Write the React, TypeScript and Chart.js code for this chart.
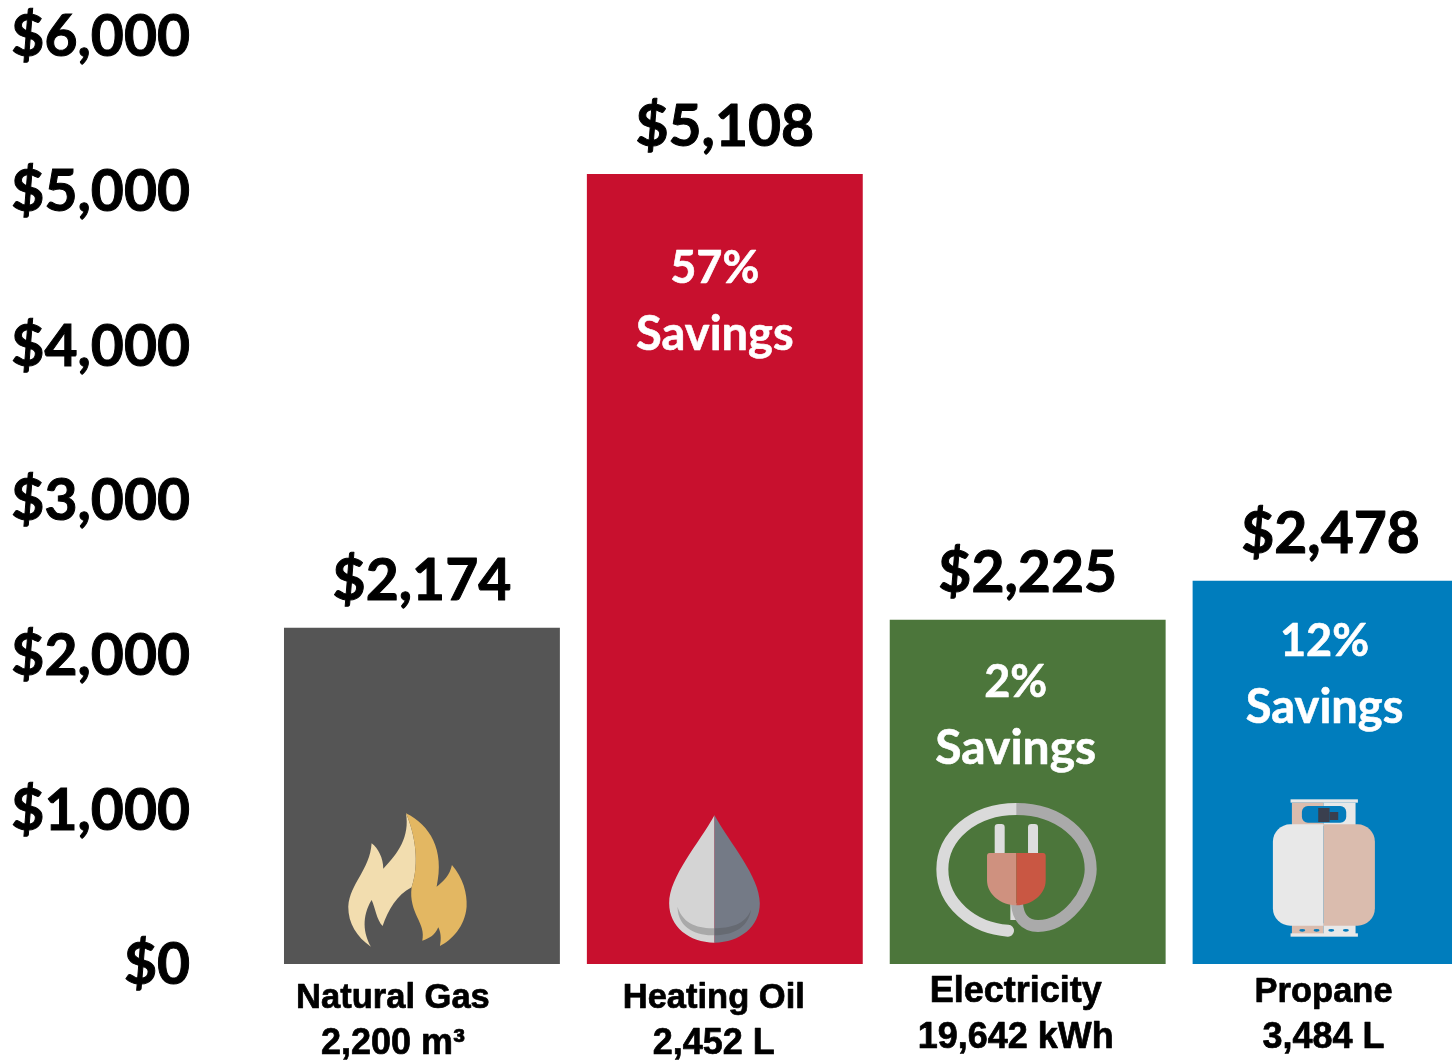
import React, { useEffect, useRef } from "react";
import { Chart, registerables } from "chart.js";

Chart.register(...registerables);

const categories = ["Natural Gas", "Heating Oil", "Electricity", "Propane"];
const quantities = ["2,200 m³", "2,452 L", "19,642 kWh", "3,484 L"];
const costs = [2174, 5108, 2225, 2478];
const savings = ["", "57%", "2%", "12%"];
const barColors = ["#555555", "#C8102E", "#4C763B", "#007DBD"];
const yTicks = [0, 1000, 2000, 3000, 4000, 5000, 6000];

const money = (v: number) => "$" + v.toLocaleString("en-US");
const CAL = "Lato, Carlito, sans-serif";
const SANS = '"Liberation Sans", Arial, sans-serif';

// placement of annotation text relative to the bars
const catDx = [-29, -11, -12, -7];
const catDy = [34, 34, 28, 28];
const catSize = [34.5, 34.5, 36, 34.5];
const saveDx = [0, -10, -12, -6];
const saveDy = [0, 95, 63, 61];
const saveSize = [47, 47, 48, 47];

type C = CanvasRenderingContext2D;
const half = (c: C, x0: number, x1: number, draw: () => void) => {
  c.save();
  c.beginPath();
  c.rect(x0, -2000, x1 - x0, 6000);
  c.clip();
  draw();
  c.restore();
};

function flame(c: C) {
  c.beginPath();
  c.moveTo(258, 70);
  c.bezierCurveTo(285, 130, 300, 220, 275, 292);
  c.bezierCurveTo(230, 315, 205, 360, 188, 408);
  c.bezierCurveTo(170, 390, 165, 350, 155, 330);
  c.bezierCurveTo(125, 380, 130, 430, 153, 470);
  c.bezierCurveTo(110, 440, 85, 400, 85, 350);
  c.bezierCurveTo(90, 280, 150, 240, 155, 160);
  c.bezierCurveTo(175, 175, 190, 205, 190, 236);
  c.bezierCurveTo(235, 190, 270, 140, 258, 70);
  c.fillStyle = "#F2DDAF";
  c.fill();
  c.beginPath();
  c.moveTo(258, 70);
  c.bezierCurveTo(330, 105, 375, 180, 350, 290);
  c.bezierCurveTo(370, 275, 390, 255, 396, 225);
  c.bezierCurveTo(430, 265, 442, 310, 440, 350);
  c.bezierCurveTo(435, 410, 395, 450, 360, 468);
  c.bezierCurveTo(365, 445, 362, 425, 355, 412);
  c.bezierCurveTo(345, 435, 330, 445, 307, 452);
  c.bezierCurveTo(320, 400, 265, 370, 275, 292);
  c.bezierCurveTo(300, 220, 285, 130, 258, 70);
  c.fillStyle = "#E3B762";
  c.fill();
}

function drop(c: C) {
  const shape = () => {
    c.beginPath();
    c.moveTo(1184, 76);
    c.bezierCurveTo(1230, 160, 1320, 260, 1320, 340);
    c.bezierCurveTo(1320, 410, 1260, 458, 1184, 458);
    c.bezierCurveTo(1108, 458, 1048, 410, 1048, 340);
    c.bezierCurveTo(1048, 260, 1138, 160, 1184, 76);
  };
  const smile = () => {
    c.beginPath();
    c.moveTo(1073, 350);
    c.bezierCurveTo(1090, 405, 1140, 415, 1184, 415);
    c.bezierCurveTo(1228, 415, 1278, 405, 1294, 358);
    c.bezierCurveTo(1285, 420, 1230, 436, 1184, 436);
    c.bezierCurveTo(1135, 436, 1075, 420, 1073, 350);
  };
  half(c, 1000, 1184, () => {
    shape();
    c.fillStyle = "#D4D4D4";
    c.fill();
    smile();
    c.fillStyle = "#A9A9A9";
    c.fill();
  });
  half(c, 1184, 1400, () => {
    shape();
    c.fillStyle = "#747A86";
    c.fill();
    smile();
    c.fillStyle = "#666A72";
    c.fill();
  });
}

function plug(c: C) {
  c.lineCap = "round";
  c.lineWidth = 36;
  c.strokeStyle = "#DADADA";
  c.beginPath();
  c.moveTo(320, 87);
  c.bezierCurveTo(190, 87, 98, 170, 98, 268);
  c.bezierCurveTo(98, 370, 190, 445, 295, 452);
  c.stroke();
  c.beginPath();
  c.lineCap = "butt";
  c.moveTo(320, 370);
  c.lineTo(320, 420);
  c.stroke();
  c.strokeStyle = "#AAAAAA";
  c.beginPath();
  c.moveTo(320, 87);
  c.bezierCurveTo(450, 87, 543, 170, 543, 268);
  c.bezierCurveTo(543, 340, 470, 438, 385, 438);
  c.bezierCurveTo(345, 438, 325, 410, 322, 372);
  c.stroke();
  c.fillStyle = "#DDDDDD";
  c.beginPath();
  c.roundRect(255, 132, 30, 95, 10);
  c.roundRect(355, 132, 30, 95, 10);
  c.fill();
  const body = () => {
    c.beginPath();
    c.moveTo(240, 219);
    c.lineTo(400, 219);
    c.quadraticCurveTo(408, 219, 408, 228);
    c.lineTo(408, 300);
    c.bezierCurveTo(408, 345, 365, 376, 320, 376);
    c.bezierCurveTo(275, 376, 232, 345, 232, 300);
    c.lineTo(232, 228);
    c.quadraticCurveTo(232, 219, 240, 219);
  };
  half(c, 200, 320, () => {
    body();
    c.fillStyle = "#CF917F";
    c.fill();
  });
  half(c, 320, 450, () => {
    body();
    c.fillStyle = "#C95743";
    c.fill();
  });
}

function tank(c: C) {
  const light = "#E8E8E8";
  const tan = "#DABCAE";
  const mid = 1242;
  c.fillStyle = light;
  c.fillRect(1143, 58, 202, 10);
  c.fillStyle = tan;
  c.fillRect(1147, 68, mid - 1147, 70);
  c.fillStyle = light;
  c.fillRect(mid, 68, 1338 - mid, 70);
  c.fillStyle = "#047CBC";
  c.beginPath();
  c.roundRect(1177, 78, 133, 50, 18);
  c.fill();
  c.fillStyle = "#3A3F4E";
  c.fillRect(1226, 84, 34, 42);
  c.fillRect(1260, 96, 26, 24);
  c.fillStyle = tan;
  c.fillRect(1147, 430, mid - 1147, 32);
  c.fillStyle = light;
  c.fillRect(mid, 430, 1338 - mid, 32);
  c.fillRect(1143, 460, 202, 10);
  const body = () => {
    c.beginPath();
    c.roundRect(1090, 133, 306, 304, 52);
  };
  half(c, 1000, mid, () => {
    body();
    c.fillStyle = light;
    c.fill();
  });
  half(c, mid, 1500, () => {
    body();
    c.fillStyle = tan;
    c.fill();
  });
  c.fillStyle = "#047CBC";
  for (const x of [1178, 1221, 1265, 1309]) {
    c.beginPath();
    c.ellipse(x, 451, 9, 4, 0, 0, Math.PI * 2);
    c.fill();
  }
}

// each icon is traced at 3x, with its origin relative to the bar centre and base
const icons = [
  { draw: flame, dx: -102, dy: -174 },
  { draw: drop, dx: -405, dy: -174 },
  { draw: plug, dx: -118, dy: -184 },
  { draw: tank, dx: -421, dy: -184 },
];

function heavyText(c: C, text: string, x: number, y: number, stroke: number) {
  c.lineWidth = stroke;
  c.lineJoin = "round";
  c.strokeStyle = c.fillStyle as string;
  c.strokeText(text, x, y);
  c.fillText(text, x, y);
}

const annotate = {
  id: "annotate",
  afterDatasetsDraw(chart: any) {
    const c: C = chart.ctx;
    const bars = chart.getDatasetMeta(0).data;
    c.save();
    c.textAlign = "center";
    c.textBaseline = "middle";
    bars.forEach((bar: any, i: number) => {
      const base = chart.scales.y.getPixelForValue(0);
      c.fillStyle = "#000000";
      c.font = `bold 57px ${CAL}`;
      heavyText(c, money(costs[i]), bar.x, bar.y - 46.5, 1);

      if (savings[i]) {
        c.fillStyle = "#FFFFFF";
        c.font = `bold 45px ${CAL}`;
        heavyText(c, savings[i], bar.x + saveDx[i], bar.y + saveDy[i], 0.6);
        c.font = `bold ${saveSize[i]}px ${CAL}`;
        heavyText(c, "Savings", bar.x + saveDx[i], bar.y + saveDy[i] + 66, 0.6);
      }

      c.save();
      c.translate(bar.x + icons[i].dx, base + icons[i].dy);
      c.scale(1 / 3, 1 / 3);
      icons[i].draw(c);
      c.restore();

      c.fillStyle = "#000000";
      c.font = `bold ${catSize[i]}px ${SANS}`;
      heavyText(c, categories[i], bar.x + catDx[i], base + catDy[i], 0.7);
      c.font = `bold 36px ${SANS}`;
      heavyText(c, quantities[i], bar.x + catDx[i], base + catDy[i] + 46, 0.7);
    });
    c.restore();
  },
};

export default function App() {
  const ref = useRef<HTMLCanvasElement>(null);
  useEffect(() => {
    document.body.style.margin = "0";
    const chart = new Chart(ref.current!, {
      type: "bar",
      data: {
        labels: categories,
        datasets: [
          {
            data: costs,
            backgroundColor: barColors,
            categoryPercentage: 1,
            barPercentage: 276 / 303,
          },
        ],
      },
      options: {
        animation: false,
        responsive: false,
        layout: { padding: { top: 36, bottom: 98, left: 0, right: 0 } },
        plugins: { legend: { display: false }, tooltip: { enabled: false } },
        scales: {
          x: { display: false },
          y: {
            min: 0,
            max: 6000,
            afterBuildTicks: (s: any) => {
              s.ticks = yTicks.map((value) => ({ value }));
            },
            afterFit: (s: any) => {
              s.width = 270.5;
              s.paddingTop = 0;
              s.paddingBottom = 0;
            },
            grid: { display: false, drawTicks: false },
            border: { display: false },
            ticks: {
              padding: 80.5,
              labelOffset: 2,
              color: "#000000",
              textStrokeColor: "#000000",
              textStrokeWidth: 1,
              font: { family: CAL, size: 57, weight: "bold" },
              callback: (v: any) => money(Number(v)),
            },
          },
        },
      },
      plugins: [annotate],
    } as any);
    return () => chart.destroy();
  }, []);
  return (
    <div style={{ width: 1452, height: 1062, overflow: "hidden", background: "#fff" }}>
      <canvas ref={ref} width={1482.5} height={1062} style={{ display: "block" }} />
    </div>
  );
}
